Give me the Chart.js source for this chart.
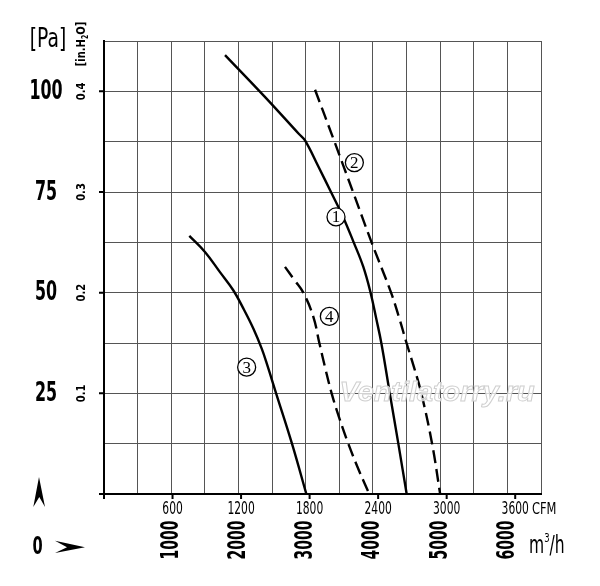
<!DOCTYPE html>
<html>
<head>
<meta charset="utf-8">
<script src="https://cdn.jsdelivr.net/npm/chart.js@4.4.1/dist/chart.umd.min.js"></script>
<style>
  html, body { margin: 0; padding: 0; background: #fff; }
  #wrap { width: 600px; height: 586px; }
</style>
</head>
<body>
<div id="wrap"><canvas id="fanChart" width="600" height="586"></canvas></div>
<script>
// Fan curves: air flow in m3/h, static pressure in Pa
const curve1Flow = [1800, 2400, 2900, 2990, 3183, 3376, 3551, 3714, 3855, 3965, 4050, 4125, 4251, 4378, 4502];
const curve1Pa   = [109, 98.5, 89.4, 87.8, 81.5, 75, 69, 62.5, 56.5, 50, 43.5, 37.5, 25, 12.5, 0];

const curve2Flow = [3139, 3428, 3704, 3980, 4270, 4390, 4500, 4615, 4720, 4880, 5000];
const curve2Pa   = [100.4, 87.5, 75, 62.5, 50, 43.75, 37.5, 31.25, 25, 12.5, 0];

const curve3Flow = [1269, 1502, 1725, 1923, 2072, 2221, 2346, 2429, 2560, 2796, 3010];
const curve3Pa   = [64.1, 60.1, 55.1, 50.6, 46.1, 41.1, 36.1, 32, 25, 12.5, 0];

const curve4Flow = [2692, 2834, 2965, 3114, 3203, 3292, 3386, 3505, 3634, 3786, 3946];
const curve4Pa   = [56.4, 53.1, 50, 44, 37.5, 31.2, 25, 18.6, 12.5, 6.1, 0];

// axis labelling
const paLabels    = [25, 50, 75, 100];
const inH2OLabels = ['0.1', '0.2', '0.3', '0.4'];
const cfmTicks    = [600, 1200, 1800, 2400, 3000, 3600];
const m3hTicks    = [1000, 2000, 3000, 4000, 5000, 6000];
const curveNames  = ['1', '2', '3', '4'];

const CFM_TO_M3H = 1.699;
const NARROW = '"DejaVu Sans Condensed", "DejaVu Sans", sans-serif';

function toPoints(xs, ys) {
  return xs.map((x, i) => ({ x: x, y: ys[i] }));
}

function curve(xs, ys, dashed) {
  return {
    data: toPoints(xs, ys),
    borderColor: '#000',
    borderWidth: 2.4,
    borderDash: dashed ? [13, 6] : [],
    pointRadius: 0,
    fill: false,
    tension: 0.4
  };
}

// draw a piece of text, optionally rotated / squeezed along its run
function label(ctx, text, x, y, font, opts = {}) {
  ctx.save();
  ctx.translate(x, y);
  if (opts.rotate) ctx.rotate(opts.rotate);
  if (opts.sx) ctx.scale(opts.sx, 1);
  ctx.font = font;
  ctx.fillStyle = opts.color || '#000';
  ctx.textAlign = opts.align || 'center';
  ctx.textBaseline = 'middle';
  ctx.fillText(text, 0, 0);
  ctx.restore();
}

const axisDecor = {
  id: 'axisDecor',
  afterDraw(chart) {
    const { ctx, chartArea: area } = chart;
    const x = chart.scales.x, y = chart.scales.y;
    ctx.save();

    // outer tick marks
    ctx.strokeStyle = '#000';
    ctx.lineWidth = 2;
    ctx.beginPath();
    [0, ...paLabels].forEach(v => {
      const py = y.getPixelForValue(v);
      ctx.moveTo(area.left - 5, py); ctx.lineTo(area.left, py);
    });
    [0, ...cfmTicks].forEach(c => {
      const px = x.getPixelForValue(c * CFM_TO_M3H);
      ctx.moveTo(px, area.bottom); ctx.lineTo(px, area.bottom + 5);
    });
    ctx.stroke();

    // pressure labels
    paLabels.forEach(v => label(ctx, String(v), 46, y.getPixelForValue(v) + 1, 'bold 26px ' + NARROW, { sx: 0.68 }));
    inH2OLabels.forEach((t, i) => label(ctx, t, 82, y.getPixelForValue(paLabels[i]), 'bold 13px ' + NARROW, { rotate: -Math.PI / 2, sx: 0.85 }));
    label(ctx, '[Pa]', 48, 40, '26px ' + NARROW, { sx: 0.8 });

    // [in.H2O] rotated with subscript
    ctx.save();
    ctx.translate(82, 44);
    ctx.rotate(-Math.PI / 2);
    ctx.scale(0.85, 1);
    ctx.fillStyle = '#000';
    ctx.textBaseline = 'middle';
    const big = 'bold 13px ' + NARROW, small = 'bold 8px ' + NARROW;
    ctx.font = big; const w1 = ctx.measureText('[in.H').width, w3 = ctx.measureText('O]').width;
    ctx.font = small; const w2 = ctx.measureText('2').width;
    let cx = -(w1 + w2 + w3) / 2;
    ctx.font = big; ctx.fillText('[in.H', cx, 0); cx += w1;
    ctx.font = small; ctx.fillText('2', cx, 4); cx += w2;
    ctx.font = big; ctx.fillText('O]', cx, 0);
    ctx.restore();

    // flow labels
    cfmTicks.forEach(c => label(ctx, String(c), x.getPixelForValue(c * CFM_TO_M3H), 510, '17px ' + NARROW, { sx: 0.7 }));
    label(ctx, 'CFM', 532, 510, '15px ' + NARROW, { align: 'left', sx: 0.85 });
    m3hTicks.forEach(m => label(ctx, String(m), x.getPixelForValue(m), 540, 'bold 25px ' + NARROW, { rotate: -Math.PI / 2, sx: 0.62 }));

    // m3/h unit
    ctx.save();
    ctx.fillStyle = '#000';
    ctx.textBaseline = 'alphabetic';
    ctx.font = '24px ' + NARROW;
    ctx.translate(529, 553);
    ctx.scale(0.72, 1);
    ctx.fillText('m', 0, 0);
    let mw = ctx.measureText('m').width;
    ctx.font = '13px ' + NARROW;
    ctx.fillText('3', mw, -11);
    mw += ctx.measureText('3').width;
    ctx.font = '24px ' + NARROW;
    ctx.fillText('/h', mw, 0);
    ctx.restore();

    // zero corner with arrows
    label(ctx, '0', 37.5, 547, 'bold 25px ' + NARROW, { sx: 0.65 });
    ctx.fillStyle = '#000';
    ctx.beginPath();
    ctx.moveTo(39, 477); ctx.lineTo(45, 507); ctx.lineTo(39.3, 497); ctx.lineTo(33.3, 507);
    ctx.closePath(); ctx.fill();
    ctx.beginPath();
    ctx.moveTo(85, 547.3); ctx.lineTo(55, 540.7); ctx.lineTo(67, 547.3); ctx.lineTo(55, 553);
    ctx.closePath(); ctx.fill();

    ctx.restore();
  },
  afterDatasetsDraw(chart) {
    const { ctx } = chart;
    const x = chart.scales.x, y = chart.scales.y;
    // where each circled curve number sits (m3/h, Pa)
    const spots = [[3451, 68.8], [3724, 82.3], [2122, 31.5], [3352, 44.1]];
    ctx.save();
    curveNames.forEach((n, i) => {
      const px = x.getPixelForValue(spots[i][0]), py = y.getPixelForValue(spots[i][1]);
      ctx.beginPath();
      ctx.arc(px, py, 9, 0, Math.PI * 2);
      ctx.fillStyle = '#fff'; ctx.fill();
      ctx.lineWidth = 1.3; ctx.strokeStyle = '#000'; ctx.stroke();
      label(ctx, n, px, py + 1, '17px "Liberation Serif", serif');
    });

    // watermark
    ctx.save();
    ctx.translate(437, 393);
    ctx.font = 'italic bold 28px "Liberation Sans", sans-serif';
    const ww = ctx.measureText('Ventilatorry.ru').width;
    ctx.scale(195 / ww, 1);
    ctx.textAlign = 'center';
    ctx.textBaseline = 'middle';
    ctx.fillStyle = 'rgba(255,255,255,0.75)';
    ctx.fillText('Ventilatorry.ru', 0, 0);
    ctx.lineWidth = 1;
    ctx.strokeStyle = '#cfcfcf';
    ctx.strokeText('Ventilatorry.ru', 0, 0);
    ctx.restore();

    ctx.restore();
  }
};

const ctx = document.getElementById('fanChart').getContext('2d');
new Chart(ctx, {
  type: 'line',
  data: {
    datasets: [
      curve(curve1Flow, curve1Pa, false),
      curve(curve2Flow, curve2Pa, true),
      curve(curve3Flow, curve3Pa, false),
      curve(curve4Flow, curve4Pa, true)
    ]
  },
  options: {
    responsive: false,
    animation: false,
    layout: { padding: { left: 104, top: 41, right: 59, bottom: 92 } },
    plugins: { legend: { display: false }, tooltip: { enabled: false } },
    scales: {
      x: {
        type: 'linear', min: 0, max: 6500,
        ticks: { display: false, stepSize: 500 },
        grid: { color: '#555', lineWidth: 1, drawTicks: false },
        border: { color: '#000', width: 2 }
      },
      y: {
        type: 'linear', min: 0, max: 112.5,
        ticks: { display: false, stepSize: 12.5 },
        grid: { color: '#555', lineWidth: 1, drawTicks: false },
        border: { color: '#000', width: 2 }
      }
    }
  },
  plugins: [axisDecor]
});
</script>
</body>
</html>
